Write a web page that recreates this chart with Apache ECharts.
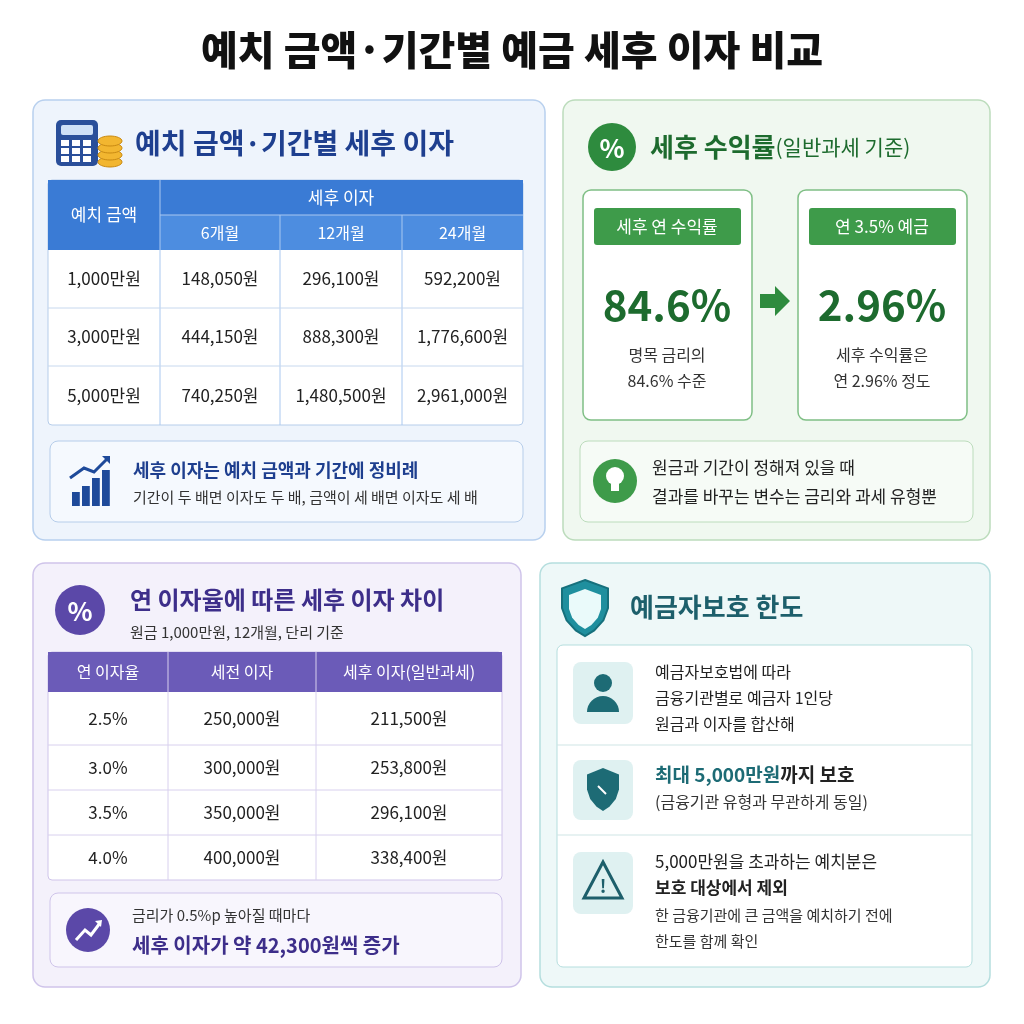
<!DOCTYPE html>
<html><head><meta charset="utf-8">
<script src="https://cdn.jsdelivr.net/npm/echarts@6/dist/echarts.min.js"></script>
<style>html,body{margin:0;padding:0;background:#fff}#c{width:1024px;height:1024px}</style>
</head><body><div id="c"></div>
<script>
const amounts = ['1,000만원','3,000만원','5,000만원'];
const periods = ['6개월','12개월','24개월'];
const afterTax = [
  ['148,050원','296,100원','592,200원'],
  ['444,150원','888,300원','1,776,600원'],
  ['740,250원','1,480,500원','2,961,000원']
];
const rates = ['2.5%','3.0%','3.5%','4.0%'];
const preTax = ['250,000원','300,000원','350,000원','400,000원'];
const postTax = ['211,500원','253,800원','296,100원','338,400원'];
const yieldRatio = '84.6%';
const yieldRate = '2.96%';

const F = '"Noto Sans CJK KR","Noto Sans",sans-serif';
const g = [];
function rect(x,y,w,h,fill,stroke,r,lw){g.push({type:'rect',shape:{x,y,width:w,height:h,r:r||0},style:{fill,stroke:stroke||null,lineWidth:lw||1}});}
function text(x,y,t,size,color,weight,align){g.push({type:'text',x,y,style:{text:t,fontSize:size,fill:color,fontWeight:weight||'normal',fontFamily:F,align:align||'left',verticalAlign:'middle'}});}
function rich(x,y,t,rs,align){for(const k in rs){rs[k].fontFamily=F;}g.push({type:'text',x,y,style:{text:t,rich:rs,align:align||'left',verticalAlign:'middle'}});}
function line(x1,y1,x2,y2,c,w){g.push({type:'line',shape:{x1,y1,x2,y2},style:{stroke:c,lineWidth:w||1}});}
function circle(cx,cy,r,fill,stroke){g.push({type:'circle',shape:{cx,cy,r},style:{fill,stroke:stroke||null}});}
function poly(pts,fill,stroke,lw){g.push({type:'polygon',shape:{points:pts},style:{fill,stroke:stroke||null,lineWidth:lw||1}});}
function shield(cx,top,w,h,fill,stroke){
  poly([[cx,top],[cx+w/2,top+h*0.15],[cx+w/2,top+h*0.5],[cx+w*0.4,top+h*0.72],[cx+w*0.2,top+h*0.9],[cx,top+h],[cx-w*0.2,top+h*0.9],[cx-w*0.4,top+h*0.72],[cx-w/2,top+h*0.5],[cx-w/2,top+h*0.15]],fill,stroke,2);
}

text(512,50,'예치 금액·기간별 예금 세후 이자 비교',40,'#111','900','center');

// ---------- Panel 1 ----------
rect(33,100,512,440,'#eef4fc','#b8d0ee',12,1.5);
rect(56,120,42,46,'#2a4f9a',null,5);
rect(61,125,32,10,'#cfe0f6',null,2);
for(let r=0;r<3;r++)for(let c=0;c<3;c++)rect(61+c*11,140+r*8,8,6,'#fff');
for(let i=0;i<4;i++){g.push({type:'ellipse',shape:{cx:110,cy:162-i*7,rx:12,ry:5},style:{fill:'#f2b630',stroke:'#c98a12'}});}
text(135,143,'예치 금액·기간별 세후 이자',28,'#1e3f8f','bold');
const cx=[48,160,280,402,523];
rect(48,180,475,245,'#fff','#b6cdea',4);
rect(48,180,475,35,'#3a7bd5',null,0);
rect(48,215,475,35,'#4d8de0',null,0);
rect(48,180,112,70,'#3a7bd5',null,0);
text(104,215,'예치 금액',17,'#fff','normal','center');
text(341,198,'세후 이자',17,'#fff','normal','center');
line(160,215,523,215,'#a9c8f0',1);
for(let i=1;i<4;i++)line(cx[i],i==1?180:215,cx[i],425,'#a9c8f0',1);
periods.forEach((p,i)=>text((cx[i+1]+cx[i+2])/2,233,p,16,'#fff','normal','center'));
const ry=[250,308,366,425];
amounts.forEach((a,r)=>{
  const y=(ry[r]+ry[r+1])/2;
  if(r>0)line(48,ry[r],523,ry[r],'#c7d8ee',1);
  text(104,y,a,17,'#222','normal','center');
  afterTax[r].forEach((v,i)=>text((cx[i+1]+cx[i+2])/2,y,v,17,'#222','normal','center'));
});
rect(50,441,473,81,'#f5f9fe','#b6cdea',8);
[[72,492,6,14],[82,486,6,20],[92,478,6,28],[102,470,6,36]].forEach(b=>rect(b[0],b[1],b[2]*1.3,b[3],'#1e4a9a'));
g.push({type:'polyline',shape:{points:[[70,478],[84,468],[94,472],[108,458]]},style:{stroke:'#1e4a9a',lineWidth:3,fill:null}});
poly([[102,456],[110,456],[110,464]],'#1e4a9a');
text(133,470,'세후 이자는 예치 금액과 기간에 정비례',18,'#1e3f8f','bold');
text(133,497,'기간이 두 배면 이자도 두 배, 금액이 세 배면 이자도 세 배',15,'#333');

// ---------- Panel 2 ----------
rect(563,100,427,440,'#f0f8f0','#bcdcbc',12,1.5);
circle(612,147,24,'#2e8b3e');
text(612,148,'%',26,'#fff','bold','center');
rich(650,147,'{a|세후 수익률}{b|(일반과세 기준)}',{a:{fontSize:26,fontWeight:'bold',fill:'#1d6b2e'},b:{fontSize:21,fill:'#1d6b2e'}});
function card(x,badge,big,l1,l2){
  rect(x,190,169,230,'#fff','#7fbf85',8,1.5);
  rect(x+11,208,147,37,'#3e9b4a',null,3);
  text(x+84,227,badge,17,'#fff','normal','center');
  text(x+84,305,big,42,'#1d6b2e','bold','center');
  text(x+84,355,l1,16,'#333','normal','center');
  text(x+84,381,l2,16,'#333','normal','center');
}
card(583,'세후 연 수익률',yieldRatio,'명목 금리의',yieldRatio+' 수준');
card(798,'연 3.5% 예금',yieldRate,'세후 수익률은','연 '+yieldRate+' 정도');
poly([[760,294],[775,294],[775,286],[790,301],[775,316],[775,308],[760,308]],'#2e8b3e');
rect(580,441,393,81,'#f6fbf6','#bcdcbc',8);
circle(615,481,22,'#3e9b4a');
circle(615,476,9,'#fff');rect(611,484,8,7,'#fff');
text(652,468,'원금과 기간이 정해져 있을 때',17,'#222');
text(652,497,'결과를 바꾸는 변수는 금리와 과세 유형뿐',17,'#222');

// ---------- Panel 3 ----------
rect(33,563,488,424,'#f4f1fb','#cfc4ea',12,1.5);
circle(80,610,25,'#5b48a8');
text(80,611,'%',26,'#fff','bold','center');
text(130,600,'연 이자율에 따른 세후 이자 차이',24,'#3d2e8a','bold');
text(130,632,'원금 1,000만원, 12개월, 단리 기준',15,'#333');
const c3=[48,168,316,502];
rect(48,652,454,228,'#fff','#cfc4ea',4);
rect(48,652,454,40,'#6b5bb8',null,0);
['연 이자율','세전 이자','세후 이자(일반과세)'].forEach((h,i)=>text((c3[i]+c3[i+1])/2,672,h,16,'#fff','normal','center'));
const r3=[692,745,790,835,880];
for(let i=1;i<3;i++)line(c3[i],652,c3[i],880,'#d8d0ee',1);
rates.forEach((r,k)=>{
  const y=(r3[k]+r3[k+1])/2;
  if(k>0)line(48,r3[k],502,r3[k],'#d8d0ee',1);
  text(108,y,r,17,'#222','normal','center');
  text(242,y,preTax[k],17,'#222','normal','center');
  text(409,y,postTax[k],17,'#222','normal','center');
});
rect(50,893,452,74,'#f8f6fd','#cfc4ea',8);
circle(88,930,22,'#5b48a8');
g.push({type:'polyline',shape:{points:[[76,940],[85,930],[91,935],[100,923]]},style:{stroke:'#fff',lineWidth:3,fill:null}});
poly([[95,921],[102,920],[101,927]],'#fff');
text(132,915,'금리가 0.5%p 높아질 때마다',15,'#333');
text(132,945,'세후 이자가 약 42,300원씩 증가',20,'#3d2e8a','bold');

// ---------- Panel 4 ----------
rect(540,563,450,424,'#eef8f8','#b5dede',12,1.5);
shield(585,580,46,56,'#1f8f9e','#16707c');
shield(585,589,32,40,'#eafafa',null);
text(630,607,'예금자보호 한도',26,'#1d5f6b','bold');
rect(557,645,415,322,'#fff','#b5dede',6);
line(557,745,972,745,'#cfe5e5',1);line(557,835,972,835,'#cfe5e5',1);
rect(573,662,60,62,'#dff1f1',null,8);
circle(603,683,9,'#1d6b75');
g.push({type:'sector',shape:{cx:603,cy:712,r0:0,r:16,startAngle:Math.PI,endAngle:Math.PI*2},style:{fill:'#1d6b75'}});
text(655,672,'예금자보호법에 따라',16,'#222');
text(655,698,'금융기관별로 예금자 1인당',16,'#222');
text(655,724,'원금과 이자를 합산해',16,'#222');
rect(573,760,60,60,'#dff1f1',null,8);
shield(603,768,32,43,'#1d6b75',null);
line(598,786,606,794,'#fff',2);
rich(655,775,'{a|최대 5,000만원}{b|까지 보호}',{a:{fontSize:19,fontWeight:'bold',fill:'#1d6b75'},b:{fontSize:19,fontWeight:'bold',fill:'#222'}});
text(655,802,'(금융기관 유형과 무관하게 동일)',16,'#333');
rect(573,852,60,62,'#dff1f1',null,8);
poly([[603,862],[622,898],[584,898]],null,'#1d5f6b',3);
text(603,886,'!',18,'#1d5f6b','bold','center');
text(655,862,'5,000만원을 초과하는 예치분은',17,'#222');
text(655,888,'보호 대상에서 제외',17,'#222','bold');
text(655,915,'한 금융기관에 큰 금액을 예치하기 전에',15,'#333');
text(655,941,'한도를 함께 확인',15,'#333');

const chart=echarts.init(document.getElementById('c'));
chart.setOption({animation:false,graphic:{elements:g}});
</script></body></html>
